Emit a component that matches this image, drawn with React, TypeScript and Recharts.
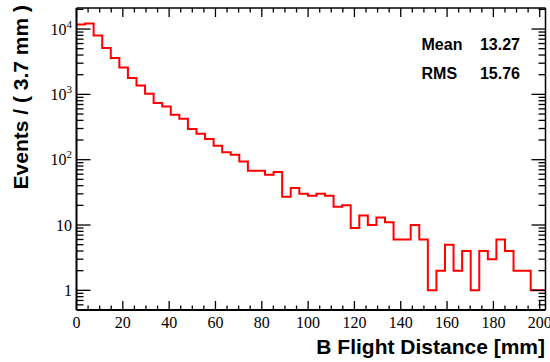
import React from "react";
import { LineChart, Line, XAxis, YAxis } from "recharts";

// Histogram of B flight distance, 3.7 mm bins
const BIN_WIDTH = 3.7;
const COUNTS = [
  11750, 12190, 7980, 5120, 3600, 2580, 1780, 1370, 1023, 738,
  654, 488, 424, 295, 250, 207, 164, 130, 119, 94,
  68, 68, 59, 65, 27, 37, 30, 28, 30, 28,
  19, 20, 9, 14, 10, 13, 11, 6, 6, 10,
  6, 1, 2, 5, 2, 4, 1, 4, 3, 6,
  4, 2, 2, 1, 1,
];
const X_TICKS = [
  0, 5, 10, 15, 20, 25, 30, 35, 40, 45, 50, 55, 60, 65, 70, 75, 80, 85, 90, 95,
  100, 105, 110, 115, 120, 125, 130, 135, 140, 145, 150, 155, 160, 165, 170, 175,
  180, 185, 190, 195, 200,
];
const X_MAJOR_STEP = 20;
const Y_TICKS = [
  0.6, 0.7, 0.8, 0.9,
  1, 2, 3, 4, 5, 6, 7, 8, 9,
  10, 20, 30, 40, 50, 60, 70, 80, 90,
  100, 200, 300, 400, 500, 600, 700, 800, 900,
  1000, 2000, 3000, 4000, 5000, 6000, 7000, 8000, 9000,
  10000, 20000,
];
const X_DOMAIN = [0, 202.5];
const Y_DOMAIN = [0.5, 21000];
const STATS = [
  { name: "Mean", value: "13.27" },
  { name: "RMS", value: "15.76" },
];
const X_TITLE = "B Flight Distance [mm]";
const Y_TITLE = "Events / ( 3.7 mm )";

const data = [
  ...COUNTS.map((c, i) => ({ x: +(i * BIN_WIDTH).toFixed(3), v: c })),
  { x: +(COUNTS.length * BIN_WIDTH).toFixed(3), v: COUNTS[COUNTS.length - 1] },
];

const SERIF = "'Liberation Serif', 'Times New Roman', serif";
const SANS = "'Liberation Sans', Arial, Helvetica, sans-serif";

const isDecade = (v: number) => {
  const l = Math.log10(v);
  return Math.abs(l - Math.round(l)) < 1e-6;
};

const BottomTick = (props: any) => {
  const { x, y, payload } = props;
  const v = payload.value;
  const major = v % X_MAJOR_STEP === 0;
  return (
    <g>
      <line x1={x} x2={x} y1={y} y2={y - (major ? 9 : 4.5)} stroke="#000" strokeWidth={1.3} />
      {major && (
        <text x={x} y={y + 17.5} textAnchor="middle" fontFamily={SERIF} fontSize={16} fill="#000">
          {v}
        </text>
      )}
    </g>
  );
};

const TopTick = (props: any) => {
  const { x, y, payload } = props;
  const v = payload.value;
  const major = v % X_MAJOR_STEP === 0;
  return <line x1={x} x2={x} y1={y} y2={y + (major ? 9 : 4.5)} stroke="#000" strokeWidth={1.3} />;
};

const LeftTick = (props: any) => {
  const { x, y, payload } = props;
  const v = payload.value;
  const major = isDecade(v);
  const exp = Math.round(Math.log10(v));
  let label: React.ReactNode = null;
  if (major && v >= 1) {
    if (exp === 0) label = <tspan>1</tspan>;
    else if (exp === 1) label = <tspan>10</tspan>;
    else
      label = (
        <>
          <tspan>10</tspan>
          <tspan dy={-7} fontSize={11}>
            {exp}
          </tspan>
        </>
      );
  }
  return (
    <g>
      <line x1={x} x2={x + (major ? 14 : 7)} y1={y} y2={y} stroke="#000" strokeWidth={1.3} />
      {label && (
        <text x={x - 4.5} y={y + 5.5} textAnchor="end" fontFamily={SERIF} fontSize={16} fill="#000">
          {label}
        </text>
      )}
    </g>
  );
};

const RightTick = (props: any) => {
  const { x, y, payload } = props;
  const major = isDecade(payload.value);
  return <line x1={x} x2={x - (major ? 14 : 7)} y1={y} y2={y} stroke="#000" strokeWidth={1.3} />;
};

export default function App() {
  return (
    <div style={{ position: "absolute", left: 0, top: 0, width: 550, height: 362, background: "#fff" }}>
      <LineChart
        width={550}
        height={362}
        data={data}
        margin={{ top: 0, right: 0, bottom: 22, left: 6.5 }}
      >
        <XAxis
          xAxisId="b"
          dataKey="x"
          type="number"
          domain={X_DOMAIN}
          allowDataOverflow
          ticks={X_TICKS}
          interval={0}
          tickSize={0}
          tickMargin={0}
          tickLine={false}
          tick={<BottomTick />}
          axisLine={{ stroke: "#000", strokeWidth: 2 }}
          height={30}
        />
        <XAxis
          xAxisId="t"
          orientation="top"
          dataKey="x"
          type="number"
          domain={X_DOMAIN}
          allowDataOverflow
          ticks={X_TICKS}
          interval={0}
          tickSize={0}
          tickMargin={0}
          tickLine={false}
          tick={<TopTick />}
          axisLine={{ stroke: "#000", strokeWidth: 1.5 }}
          height={8}
        />
        <YAxis
          yAxisId="l"
          scale="log"
          type="number"
          domain={Y_DOMAIN}
          allowDataOverflow
          ticks={Y_TICKS}
          interval={0}
          tickSize={0}
          tickMargin={0}
          tickLine={false}
          tick={<LeftTick />}
          axisLine={{ stroke: "#000", strokeWidth: 2 }}
          width={70}
        />
        <YAxis
          yAxisId="r"
          orientation="right"
          scale="log"
          type="number"
          domain={Y_DOMAIN}
          allowDataOverflow
          ticks={Y_TICKS}
          interval={0}
          tickSize={0}
          tickMargin={0}
          tickLine={false}
          tick={<RightTick />}
          axisLine={{ stroke: "#000", strokeWidth: 1.5 }}
          width={4.5}
        />
        <Line
          xAxisId="b"
          yAxisId="l"
          type="stepAfter"
          dataKey="v"
          stroke="#ff0000"
          strokeWidth={2}
          dot={false}
          activeDot={false}
          isAnimationActive={false}
        />
      </LineChart>
      <svg
        width={550}
        height={362}
        style={{ position: "absolute", left: 0, top: 0, pointerEvents: "none" }}
      >
        {STATS.map((s, i) => (
          <g key={s.name}>
            <text x={421.5} y={50 + i * 29} fontFamily={SANS} fontWeight="bold" fontSize={16} fill="#000">
              {s.name}
            </text>
            <text x={520} y={50 + i * 29} textAnchor="end" fontFamily={SANS} fontWeight="bold" fontSize={16} fill="#000">
              {s.value}
            </text>
          </g>
        ))}
        <text x={545} y={354} textAnchor="end" fontFamily={SANS} fontWeight="bold" fontSize={21} fill="#000">
          {X_TITLE}
        </text>
        <text
          transform="translate(28,5) rotate(-90)"
          x={0}
          y={0}
          textAnchor="end"
          fontFamily={SANS}
          fontWeight="bold"
          fontSize={21}
          fill="#000"
        >
          {Y_TITLE}
        </text>
      </svg>
    </div>
  );
}
